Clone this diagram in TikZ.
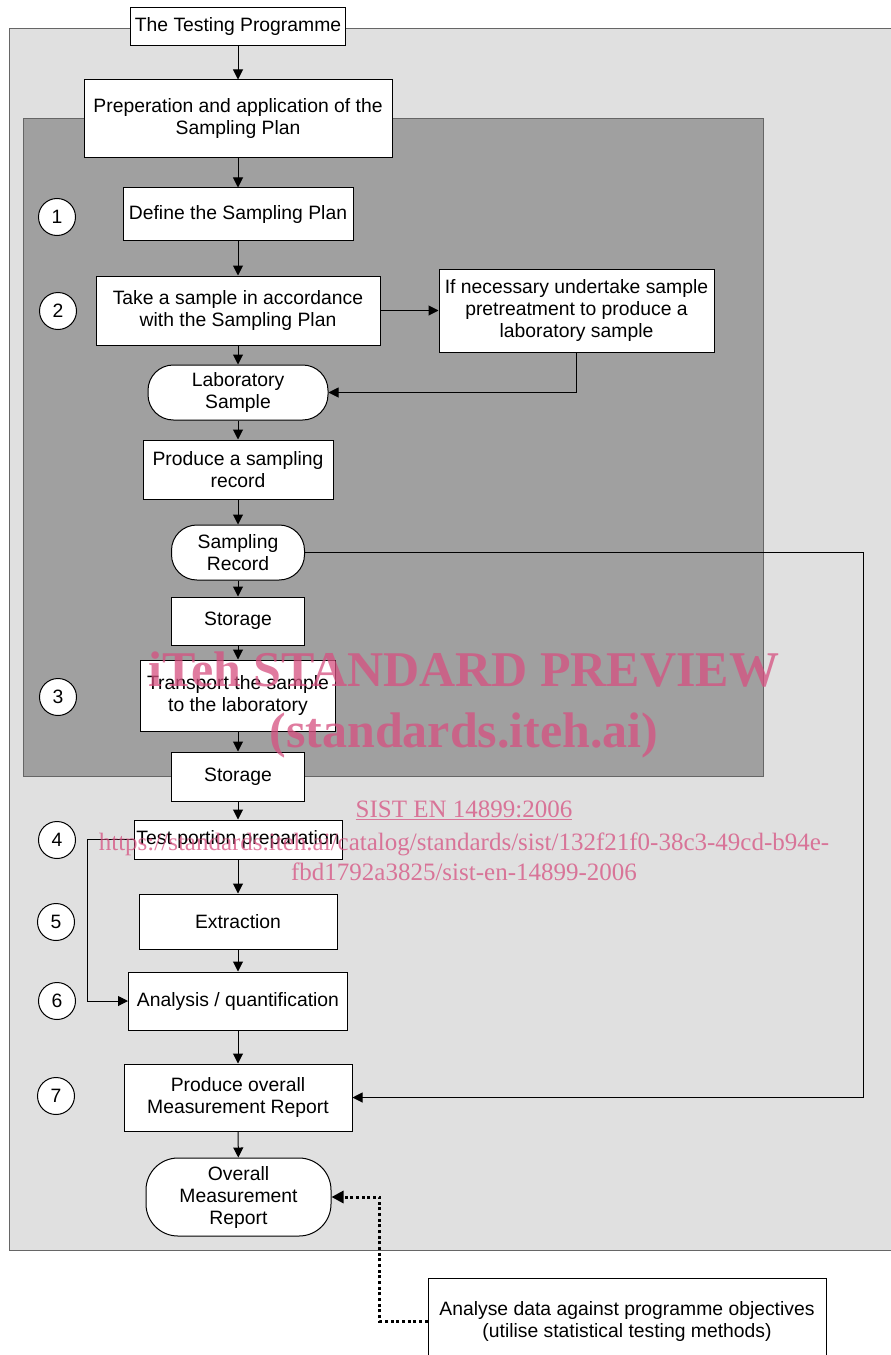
\documentclass[tikz,border=0pt]{standalone}
\usepackage{fontspec}
\setmainfont{Liberation Sans}
\newfontfamily\wmfont{Liberation Serif}
\usetikzlibrary{arrows.meta,positioning,calc}
\definecolor{outergray}{RGB}{224,224,224}
\definecolor{innergray}{RGB}{160,160,160}
\definecolor{wmpink}{RGB}{214,80,128}

\begin{document}
\begin{tikzpicture}[
    x=0.75pt, y=-0.75pt,
    font=\fontsize{14.5}{16.5}\selectfont,
    box/.style={rectangle, draw, fill=white, align=center, inner sep=2pt, line width=0.75pt},
    term/.style={box, rounded corners=19pt},
    num/.style={circle, draw, fill=white, minimum size=27.75pt, inner sep=0pt, line width=0.75pt},
    arrow/.style={-{Triangle[length=7.5pt,width=7.5pt]}, line width=0.75pt},
    dotarrow/.style={-{Triangle[length=9pt,width=9pt]}, dotted, line width=2.25pt},
    wmtext/.style={text=wmpink, text opacity=0.75, inner sep=0pt, anchor=base}
]
    \useasboundingbox (0,0) rectangle (891,1355);
    \filldraw[fill=outergray, draw=black!60, line width=0.75pt] (9,29) rectangle (893,1250);
    \filldraw[fill=innergray, draw=black!60, line width=0.75pt] (23,119) rectangle (763,776);

    \node[box, minimum width=161.25pt, minimum height=28.5pt] (prog) at (238,27) {The Testing Programme};
    \node[box, minimum width=231pt, minimum height=58.5pt] (prep) at (238,119) {Preperation and application of the\\Sampling Plan};
    \node[box, minimum width=172.5pt, minimum height=39.75pt] (define) at (238,214.5) {Define the Sampling Plan};
    \node[box, minimum width=213pt, minimum height=51.75pt] (take) at (238,310.5) {Take a sample in accordance\\with the Sampling Plan};
    \node[box, minimum width=206.25pt, minimum height=62.25pt] (pretreat) at (576.5,310.5) {If necessary undertake sample\\pretreatment to produce a\\laboratory sample};
    \node[term, minimum width=135pt, minimum height=41.25pt] (labsample) at (238,392.5) {Laboratory\\Sample};
    \node[box, minimum width=142.5pt, minimum height=44.25pt] (record) at (238,469.5) {Produce a sampling\\record};
    \node[term, minimum width=99.75pt, minimum height=41.25pt] (samprec) at (238,552.5) {Sampling\\Record};
    \node[box, minimum width=99.75pt, minimum height=36pt] (storeA) at (238,621) {Storage};
    \node[box, minimum width=146.25pt, minimum height=53.25pt] (transport) at (238,695.5) {Transport the sample\\to the laboratory};
    \node[box, minimum width=99.75pt, minimum height=36.75pt] (storeB) at (238,776.5) {Storage};
    \node[box, inner xsep=0pt, minimum width=156pt, minimum height=29.25pt] (testprep) at (238,839.5) {Test portion preparation};
    \node[box, minimum width=148.5pt, minimum height=41.25pt] (extract) at (238,921.5) {Extraction};
    \node[box, minimum width=164.25pt, minimum height=43.5pt] (analysis) at (238,1001) {Analysis / quantification};
    \node[box, minimum width=171pt, minimum height=50.25pt] (produce) at (238,1097.5) {Produce overall\\Measurement Report};
    \node[term, rounded corners=24pt, minimum width=138.75pt, minimum height=58.5pt] (overall) at (238.5,1197) {Overall\\Measurement\\Report};
    \node[box, minimum width=298.5pt, minimum height=64.5pt] (analyse) at (627,1321) {Analyse data against programme objectives\\(utilise statistical testing methods)};

    \node[num] (n1) at (57,217) {1};
    \node[num] (n2) at (58,311) {2};
    \node[num] (n3) at (58,697) {3};
    \node[num] (n4) at (57,840) {4};
    \node[num] (n5) at (56,922) {5};
    \node[num] (n6) at (57,1001) {6};
    \node[num] (n7) at (56,1096) {7};

    \draw[arrow] (prog) -- (prep);
    \draw[arrow] (prep) -- (define);
    \draw[arrow] (define) -- (take);
    \draw[arrow] (take) -- (pretreat);
    \draw[arrow] (pretreat.south) |- (labsample.east);
    \draw[arrow] (take) -- (labsample);
    \draw[arrow] (labsample) -- (record);
    \draw[arrow] (record) -- (samprec);
    \draw[arrow] (samprec) -- (storeA);
    \draw[arrow] (storeA) -- (transport);
    \draw[arrow] (transport) -- (storeB);
    \draw[arrow] (storeB) -- (testprep);
    \draw[arrow] (testprep) -- (extract);
    \draw[arrow] (extract) -- (analysis);
    \draw[arrow] (analysis) -- (produce);
    \draw[arrow] (produce) -- (overall);
    \draw[arrow] (testprep.west) -- ++(-46,0) |- (analysis.west);
    \coordinate (edge) at (863,552.5);
    \draw[arrow] (samprec.east) -- (edge) |- (produce.east);
    \draw[dotarrow] (analyse.west) -- ++(-48,0) |- (overall.east);

    \node[wmtext, font=\wmfont\bfseries\fontsize{37.5}{40}\selectfont] (wmA) at (464,686) {iTeh STANDARD PREVIEW};
    \node[wmtext, font=\wmfont\bfseries\fontsize{37.5}{40}\selectfont] (wmB) at (464,747) {(standards.iteh.ai)};
    \node[wmtext, font=\wmfont\fontsize{18.75}{20}\selectfont] (wmC) at (464,817) {\underline{SIST EN 14899:2006}};
    \node[wmtext, font=\wmfont\fontsize{18.75}{20}\selectfont] (wmD) at (464,850) {https://standards.iteh.ai/catalog/standards/sist/132f21f0-38c3-49cd-b94e-};
    \node[wmtext, font=\wmfont\fontsize{18.75}{20}\selectfont] (wmE) at (464,880) {fbd1792a3825/sist-en-14899-2006};
\end{tikzpicture}
\end{document}
